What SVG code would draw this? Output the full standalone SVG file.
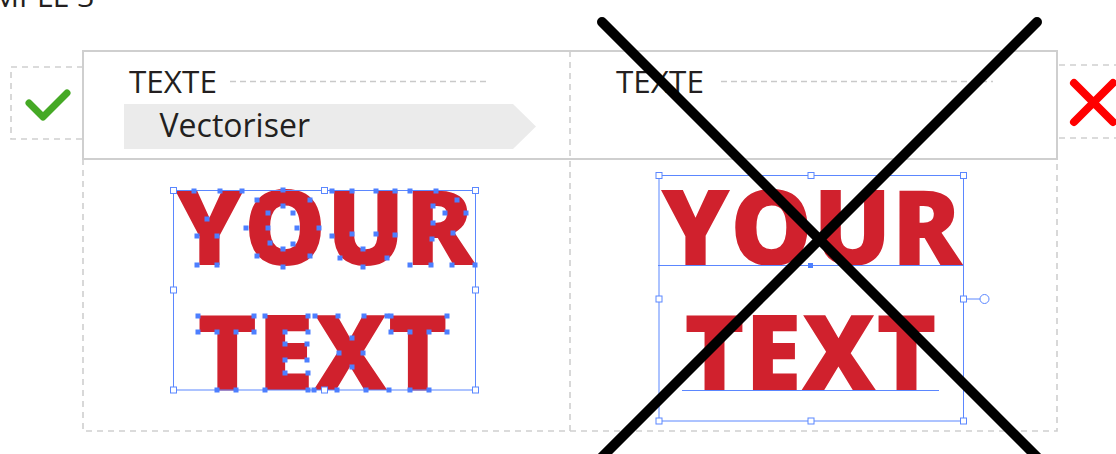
<svg xmlns="http://www.w3.org/2000/svg" width="1116" height="454" viewBox="0 0 1116 454">
<style>
.solid{fill:none;stroke:#cfcfcf;stroke-width:2}
.dash{fill:none;stroke:#cfcfcf;stroke-width:1.6;stroke-dasharray:6 5}
.hdash{fill:none;stroke:#c9c9c9;stroke-width:1.4;stroke-dasharray:6 4}
.lbl{font-family:"Open Sans","Liberation Sans",sans-serif;fill:#231f20}
.big{font-family:"Open Sans","Liberation Sans",sans-serif;font-weight:800;fill:#d0212d}
.sel{fill:none;stroke:#5b87ff;stroke-width:1}
.hdl{fill:#fff;stroke:#5b87ff;stroke-width:1}
.cross{stroke:#000;stroke-width:10;stroke-linecap:round}
</style>
<defs>
<rect id="a" x="-2.5" y="-2.5" width="5" height="5" fill="#4d7fff"/>
<rect id="h" x="-3" y="-3" width="6" height="6" class="hdl"/>
</defs>
<rect width="1116" height="454" fill="#fff"/>
<g id="title"><text class="lbl" x="-8" y="7" font-size="30">MPLE 3</text></g>
<g id="check-node">
<path class="dash" d="M83,67 H11 V139 H83"/>
<polyline points="29,103 43,117 67,93" fill="none" stroke="#45a925" stroke-width="7" stroke-linecap="round" stroke-linejoin="round"/>
</g>
<g id="x-node">
<path class="dash" d="M1120,65 H1059 M1059,138 H1120"/>
<path d="M1074,83 L1113,122 M1113,83 L1074,122" stroke="#ff0000" stroke-width="8" stroke-linecap="round"/>
</g>
<g id="table">
<rect x="83" y="51" width="974" height="108" class="solid"/>
<path class="dash" d="M83,159 V431 H1057 V159"/>
<path class="dash" d="M570,51 V431"/>
</g>
<g id="left-header">
<text class="lbl" x="129" y="93" font-size="31.5">TEXTE</text>
<path class="hdash" d="M230,81.5 H490"/>
<polygon points="124,104 513,104 536,126.5 513,149 124,149" fill="#ebebeb"/>
<text class="lbl" x="159.5" y="137" font-size="32">Vectoriser</text>
</g>
<g id="right-header">
<text class="lbl" x="616" y="93" font-size="31.5">TEXTE</text>
<path class="hdash" d="M721,81.5 H993"/>
</g>
<g id="left-panel">
<text class="big" x="175" y="265" font-size="105" textLength="300" lengthAdjust="spacingAndGlyphs">YOUR</text>
<text class="big" x="197" y="390" font-size="105" textLength="251" lengthAdjust="spacingAndGlyphs">TEXT</text>
<rect class="sel" x="173.5" y="190.5" width="302" height="199.5"/>
<g>
<use href="#a" x="194" y="191"/><use href="#a" x="220" y="191"/><use href="#a" x="242" y="191"/><use href="#a" x="207" y="219"/><use href="#a" x="197" y="236"/><use href="#a" x="217" y="236"/><use href="#a" x="197" y="265"/><use href="#a" x="217" y="265"/>
<use href="#a" x="283" y="190"/><use href="#a" x="257" y="200"/><use href="#a" x="310" y="200"/><use href="#a" x="246" y="228"/><use href="#a" x="319" y="228"/><use href="#a" x="257" y="256"/><use href="#a" x="310" y="256"/><use href="#a" x="283" y="267"/>
<use href="#a" x="283" y="206"/><use href="#a" x="268" y="213"/><use href="#a" x="293" y="213"/><use href="#a" x="268" y="228"/><use href="#a" x="297" y="228"/><use href="#a" x="270" y="243"/><use href="#a" x="293" y="244"/><use href="#a" x="283" y="249"/>
<use href="#a" x="332" y="191"/><use href="#a" x="352" y="191"/><use href="#a" x="376" y="191"/><use href="#a" x="395" y="191"/><use href="#a" x="332" y="236"/><use href="#a" x="352" y="234"/><use href="#a" x="376" y="234"/><use href="#a" x="395" y="235"/><use href="#a" x="340" y="258"/><use href="#a" x="363" y="249"/><use href="#a" x="387" y="258"/><use href="#a" x="363" y="267"/>
<use href="#a" x="410" y="191"/><use href="#a" x="436" y="191"/><use href="#a" x="457" y="200"/><use href="#a" x="466" y="213"/><use href="#a" x="453" y="233"/><use href="#a" x="475" y="265"/><use href="#a" x="452" y="265"/><use href="#a" x="431" y="265"/><use href="#a" x="410" y="265"/><use href="#a" x="433" y="206"/><use href="#a" x="445" y="213"/><use href="#a" x="433" y="223"/><use href="#a" x="432" y="239"/>
<use href="#a" x="198" y="316"/><use href="#a" x="254" y="316"/><use href="#a" x="198" y="332"/><use href="#a" x="217" y="332"/><use href="#a" x="236" y="332"/><use href="#a" x="254" y="332"/><use href="#a" x="217" y="390"/><use href="#a" x="236" y="390"/>
<use href="#a" x="265" y="316"/><use href="#a" x="308" y="316"/><use href="#a" x="265" y="390"/><use href="#a" x="308" y="390"/><use href="#a" x="285" y="332"/><use href="#a" x="308" y="332"/><use href="#a" x="285" y="344"/><use href="#a" x="307" y="344"/><use href="#a" x="285" y="360"/><use href="#a" x="307" y="360"/><use href="#a" x="285" y="373"/><use href="#a" x="308" y="373"/>
<use href="#a" x="315" y="316"/><use href="#a" x="338" y="316"/><use href="#a" x="364" y="316"/><use href="#a" x="387" y="316"/><use href="#a" x="352" y="338"/><use href="#a" x="339" y="353"/><use href="#a" x="363" y="353"/><use href="#a" x="352" y="367"/><use href="#a" x="314" y="390"/><use href="#a" x="337" y="390"/><use href="#a" x="366" y="390"/><use href="#a" x="389" y="390"/>
<use href="#a" x="391" y="316"/><use href="#a" x="447" y="316"/><use href="#a" x="391" y="332"/><use href="#a" x="410" y="332"/><use href="#a" x="429" y="332"/><use href="#a" x="447" y="332"/><use href="#a" x="410" y="390"/><use href="#a" x="429" y="390"/>
</g>
<use href="#h" x="173.5" y="190.5"/><use href="#h" x="324.5" y="190.5"/><use href="#h" x="475.5" y="190.5"/>
<use href="#h" x="173.5" y="290"/><use href="#h" x="475.5" y="290"/>
<use href="#h" x="173.5" y="390"/><use href="#h" x="324.5" y="390"/><use href="#h" x="475.5" y="390"/>
</g>
<g id="right-panel">
<text class="big" x="661" y="265" font-size="105" font-weight="700" textLength="301" lengthAdjust="spacingAndGlyphs">YOUR</text>
<text class="big" x="684" y="390" font-size="105" font-weight="700" textLength="253" lengthAdjust="spacingAndGlyphs">TEXT</text>
<rect class="sel" x="659" y="175.5" width="304.5" height="245.5"/>
<path class="sel" d="M658,265.5 H964 M682,390.5 H939 M963.5,299 H980"/>
<rect x="808" y="263" width="5" height="5" fill="#4d7fff"/>
<circle cx="984.5" cy="299" r="4.5" class="hdl"/>
<use href="#h" x="659" y="175.5"/><use href="#h" x="811" y="175.5"/><use href="#h" x="963.5" y="175.5"/>
<use href="#h" x="659" y="299"/><use href="#h" x="963.5" y="299"/>
<use href="#h" x="659" y="421"/><use href="#h" x="811" y="421"/><use href="#h" x="963.5" y="421"/>
</g>
<g id="cross-out">
<line class="cross" x1="602" y1="22" x2="1042" y2="462"/>
<line class="cross" x1="1037" y1="22" x2="597" y2="462"/>
</g>
</svg>
